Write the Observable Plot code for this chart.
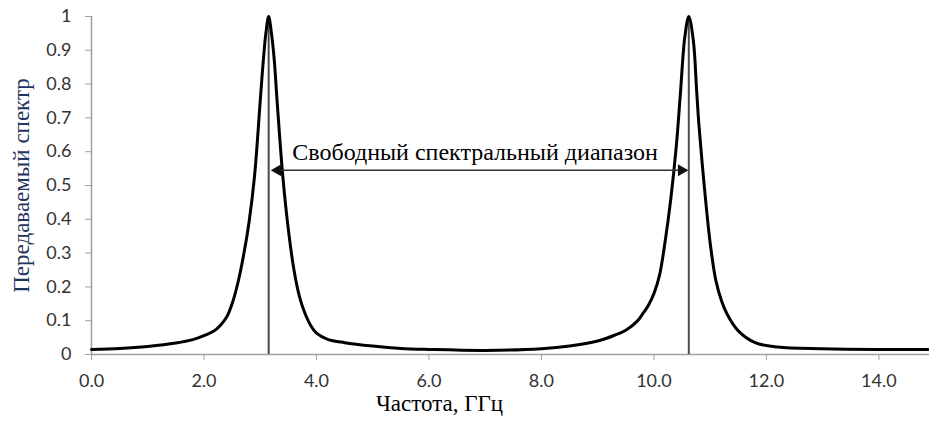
<!DOCTYPE html>
<html><head><meta charset="utf-8">
<script src="https://cdn.jsdelivr.net/npm/d3@7"></script>
<script src="https://cdn.jsdelivr.net/npm/@observablehq/plot@0.6"></script>
<style>body{margin:0;background:#fff}</style>
</head><body><div id="chart"></div>
<script>
// Frequency (GHz) and transmitted spectrum values
const freq  = [0.0, 0.5, 1.0, 1.5, 1.8, 2.0, 2.2, 2.4, 2.5, 2.6, 2.7, 2.8, 2.9, 3.0, 3.05, 3.1, 3.15, 3.2, 3.25, 3.3, 3.4, 3.5, 3.6, 3.7, 3.8, 3.9, 4.0, 4.2, 4.5, 5.0, 5.5, 6.0, 7.0, 8.0, 8.5, 9.0, 9.3, 9.5, 9.7, 9.8, 9.9, 10.0, 10.1, 10.2, 10.3, 10.4, 10.47, 10.55, 10.62, 10.7, 10.76, 10.8, 10.9, 11.0, 11.1, 11.2, 11.3, 11.5, 11.8, 12.2, 13.0, 14.0, 14.9];
const trans = [0.015, 0.018, 0.024, 0.034, 0.044, 0.056, 0.072, 0.11, 0.15, 0.21, 0.29, 0.39, 0.53, 0.75, 0.86, 0.95, 1.0, 0.95, 0.87, 0.75, 0.53, 0.37, 0.25, 0.17, 0.12, 0.085, 0.063, 0.045, 0.035, 0.025, 0.018, 0.015, 0.012, 0.017, 0.025, 0.04, 0.057, 0.072, 0.098, 0.12, 0.145, 0.18, 0.235, 0.335, 0.46, 0.62, 0.77, 0.94, 1.0, 0.93, 0.78, 0.68, 0.49, 0.33, 0.22, 0.16, 0.12, 0.07, 0.035, 0.022, 0.017, 0.015, 0.015];

const peakFreqs = [3.15, 10.62];
const fsrSpan = [{x1: 3.24, x2: 10.56}];
const fsrLevel = 0.545;
const fsrLabel = "Свободный спектральный диапазон";

const xTicks = [0, 2, 4, 6, 8, 10, 12, 14];
const yTicks = [0, 0.1, 0.2, 0.3, 0.4, 0.5, 0.6, 0.7, 0.8, 0.9, 1];
const yTickLabels = ["0", "0.1", "0.2", "0.3", "0.4", "0.5", "0.6", "0.7", "0.8", "0.9", "1"];
const xLabel = "Частота, ГГц";
const yLabel = "Передаваемый спектр";

const data = freq.map((f, i) => ({f, t: trans[i]}));
const serif = "'Liberation Serif', 'Times New Roman', serif";
const sans = "Lato, 'Open Sans', sans-serif";

const chart = Plot.plot({
  width: 929, height: 421,
  marginLeft: 91, marginRight: 0, marginTop: 16, marginBottom: 67,
  x: {domain: [0, 14.9]},
  y: {domain: [0, 1]},
  style: {background: "white", color: "#333", fontFamily: sans, fontSize: "18px"},
  marks: [
    Plot.axisX({ticks: xTicks, tickFormat: d3.format(".1f"), tickSize: 6, tickPadding: 14, stroke: "#a0a0a0", fill: "#333", fontSize: 18, fontFamily: sans, label: null}),
    Plot.axisY({ticks: yTicks, tickFormat: d => yTickLabels[yTicks.indexOf(d)], tickSize: 6, tickPadding: 14, stroke: "#a0a0a0", fill: "#333", fontSize: 18, fontFamily: sans, label: null}),
    Plot.ruleY([0], {stroke: "#a0a0a0", strokeWidth: 1.5}),
    Plot.ruleX([0], {stroke: "#a0a0a0", strokeWidth: 1.5}),
    Plot.ruleX(peakFreqs, {x: d => d, y1: 0, y2: 1, stroke: "#4a4a4a", strokeWidth: 2}),
    Plot.line(data, {x: "f", y: "t", curve: "catmull-rom", stroke: "#000", strokeWidth: 3}),
    Plot.link(fsrSpan, {x1: "x1", x2: "x2", y1: () => fsrLevel, y2: () => fsrLevel, stroke: "#333", strokeWidth: 1.5}),
    Plot.dot(fsrSpan, {x: "x1", y: () => fsrLevel, symbol: "triangle", rotate: -90, r: 4.5, dx: 4, fill: "#111", stroke: "none"}),
    Plot.dot(fsrSpan, {x: "x2", y: () => fsrLevel, symbol: "triangle", rotate: 90, r: 4.5, dx: -4, fill: "#111", stroke: "none"}),
    Plot.text([fsrLabel], {x: 6.82, y: fsrLevel, text: d => d, dy: -18, fontFamily: serif, fontSize: 24, fill: "#000"}),
    Plot.text([yLabel], {frameAnchor: "left", text: d => d, rotate: -90, dx: -70, textAnchor: "middle", lineAnchor: "middle", fontFamily: serif, fontSize: 23, fill: "#1f3560"}),
    Plot.text([xLabel], {frameAnchor: "bottom", text: d => d, dx: -71, dy: 49, textAnchor: "middle", lineAnchor: "middle", fontFamily: serif, fontSize: 23, fill: "#000"})
  ]
});
document.getElementById("chart").appendChild(chart);
</script>
</body></html>
